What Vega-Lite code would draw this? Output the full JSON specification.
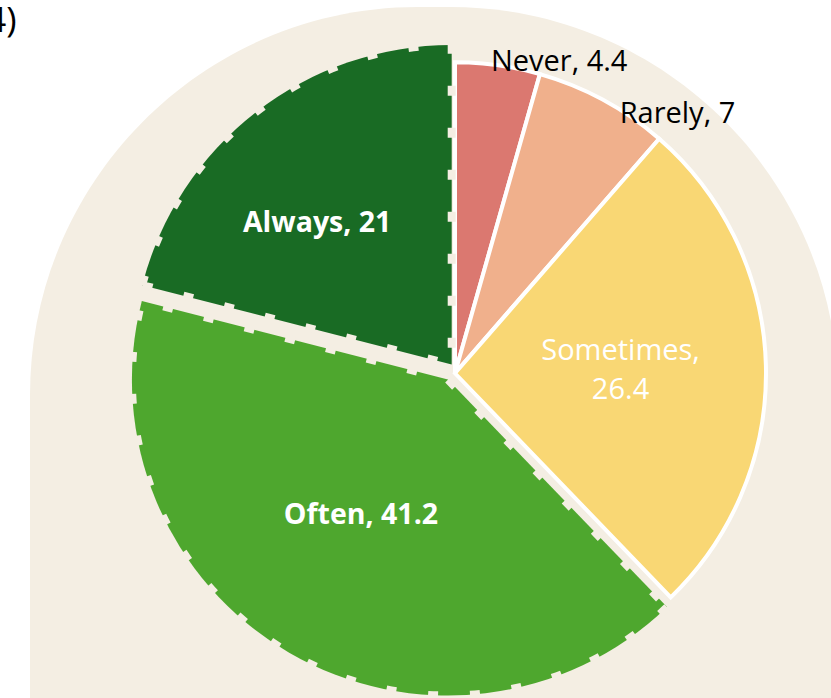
{
  "$schema": "https://vega.github.io/schema/vega-lite/v6.json",
  "width": 808,
  "height": 800,
  "autosize": {"type": "none"},
  "padding": {"left": 30, "top": 7, "right": -7, "bottom": -109},
  "background": "white",
  "config": {"view": {"stroke": null}},
  "title": {"text": "(4)", "anchor": "start", "frame": "group", "orient": "top", "offset": 0, "baseline": "alphabetic", "dx": -54, "dy": 60, "font": "Open Sans", "fontSize": 35, "fontWeight": "normal", "color": "#000000"},
  "data": {"values": [
    {"cat": "Never", "value": 4.4, "rank": 1, "label": "Never, 4.4"},
    {"cat": "Rarely", "value": 7, "rank": 2, "label": "Rarely, 7"},
    {"cat": "Sometimes", "value": 26.4, "rank": 3, "label": "Sometimes,\n26.4"},
    {"cat": "Often", "value": 41.2, "rank": 4, "label": "Often, 41.2"},
    {"cat": "Always", "value": 21, "rank": 5, "label": "Always, 21"}
  ]},
  "layer": [
    {
      "data": {"values": [{"panel": "background"}]},
      "mark": {"type": "rect", "color": "#F4EEE3", "cornerRadiusTopLeft": 388, "cornerRadiusTopRight": 388},
      "encoding": {
        "x": {"value": 0},
        "x2": {"value": "width"},
        "y": {"value": 0},
        "y2": {"value": "height"}
      }
    },
    {
      "transform": [
        {"stack": "value", "groupby": [], "sort": [{"field": "rank", "order": "ascending"}], "as": ["v0", "v1"]},
        {"filter": "datum.rank <= 3"}
      ],
      "mark": {"type": "arc", "radius": 311, "stroke": "#FFFFFF", "strokeWidth": 4, "xOffset": 21, "yOffset": -33.7},
      "encoding": {
        "theta": {"field": "v0", "type": "quantitative", "stack": null, "scale": {"domain": [0, 100]}},
        "theta2": {"field": "v1"},
        "color": {"field": "cat", "type": "nominal", "legend": null, "scale": {"domain": ["Never", "Rarely", "Sometimes", "Often", "Always"], "range": ["#DB7870", "#F0B08C", "#F9D774", "#4EA72E", "#196B24"]}}
      }
    },
    {
      "transform": [
        {"stack": "value", "groupby": [], "sort": [{"field": "rank", "order": "ascending"}], "as": ["v0", "v1"]},
        {"filter": "datum.cat === 'Often'"}
      ],
      "mark": {"type": "arc", "radius": 316, "stroke": "#F4EEE3", "strokeWidth": 8, "strokeDash": [10, 32], "xOffset": 13.9, "yOffset": -27.5},
      "encoding": {
        "theta": {"field": "v0", "type": "quantitative", "stack": null, "scale": {"domain": [0, 100]}},
        "theta2": {"field": "v1"},
        "color": {"field": "cat", "type": "nominal", "legend": null}
      }
    },
    {
      "transform": [
        {"stack": "value", "groupby": [], "sort": [{"field": "rank", "order": "ascending"}], "as": ["v0", "v1"]},
        {"filter": "datum.cat === 'Always'"}
      ],
      "mark": {"type": "arc", "radius": 319.5, "stroke": "#F4EEE3", "strokeWidth": 8, "strokeDash": [10, 32], "xOffset": 17.7, "yOffset": -42.4},
      "encoding": {
        "theta": {"field": "v0", "type": "quantitative", "stack": null, "scale": {"domain": [0, 100]}},
        "theta2": {"field": "v1"},
        "color": {"field": "cat", "type": "nominal", "legend": null}
      }
    },
    {
      "mark": {"type": "text", "radius": 314, "dx": 81.9, "dy": -25.3, "font": "Open Sans", "fontSize": 29, "color": "#000000", "align": "center", "baseline": "alphabetic"},
      "encoding": {
        "theta": {"field": "value", "type": "quantitative", "stack": true, "scale": {"domain": [0, 100]}},
        "order": {"field": "rank"},
        "detail": {"field": "cat"},
        "text": {"condition": {"test": "datum.cat === 'Never'", "field": "label"}, "value": ""}
      }
    },
    {
      "mark": {"type": "text", "radius": 326, "dx": 88.2, "dy": 2.9, "font": "Open Sans", "fontSize": 29, "color": "#000000", "align": "center", "baseline": "alphabetic"},
      "encoding": {
        "theta": {"field": "value", "type": "quantitative", "stack": true, "scale": {"domain": [0, 100]}},
        "order": {"field": "rank"},
        "detail": {"field": "cat"},
        "text": {"condition": {"test": "datum.cat === 'Rarely'", "field": "label"}, "value": ""}
      }
    },
    {
      "mark": {"type": "text", "radius": 166, "dx": 20.6, "dy": -42.8, "font": "Open Sans", "fontSize": 29, "color": "#FFFFFF", "align": "center", "baseline": "alphabetic", "lineBreak": "\n", "lineHeight": 39},
      "encoding": {
        "theta": {"field": "value", "type": "quantitative", "stack": true, "scale": {"domain": [0, 100]}},
        "order": {"field": "rank"},
        "detail": {"field": "cat"},
        "text": {"condition": {"test": "datum.cat === 'Sometimes'", "field": "label"}, "value": ""}
      }
    },
    {
      "mark": {"type": "text", "radius": 178, "dx": 16.6, "dy": -36.5, "font": "Open Sans", "fontSize": 28.5, "fontWeight": "bold", "color": "#FFFFFF", "align": "center", "baseline": "alphabetic"},
      "encoding": {
        "theta": {"field": "value", "type": "quantitative", "stack": true, "scale": {"domain": [0, 100]}},
        "order": {"field": "rank"},
        "detail": {"field": "cat"},
        "text": {"condition": {"test": "datum.cat === 'Often'", "field": "label"}, "value": ""}
      }
    },
    {
      "mark": {"type": "text", "radius": 196, "dx": 3.3, "dy": -20.4, "font": "Open Sans", "fontSize": 28.5, "fontWeight": "bold", "color": "#FFFFFF", "align": "center", "baseline": "alphabetic"},
      "encoding": {
        "theta": {"field": "value", "type": "quantitative", "stack": true, "scale": {"domain": [0, 100]}},
        "order": {"field": "rank"},
        "detail": {"field": "cat"},
        "text": {"condition": {"test": "datum.cat === 'Always'", "field": "label"}, "value": ""}
      }
    }
  ]
}
